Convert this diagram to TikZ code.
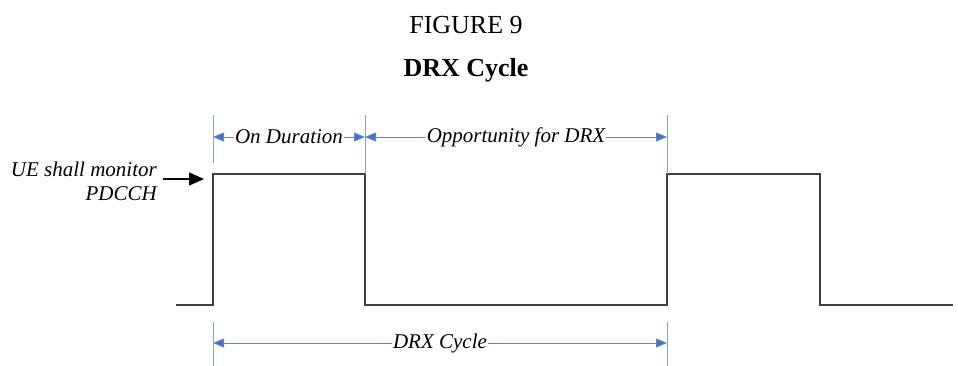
\documentclass[tikz,border=0pt]{standalone}
\usepackage{fontspec}
\setmainfont{Liberation Serif}
\usetikzlibrary{arrows.meta}
\definecolor{dimblue}{RGB}{68,114,196}
\definecolor{ticblue}{RGB}{130,165,215}
\tikzset{
  sig/.style={line width=1.1pt, draw=black!75, line join=miter},
  tick/.style={line width=0.7pt, draw=ticblue},
  dim/.style={line width=0.8pt, draw=dimblue!85, {Triangle[length=11pt,width=9pt,fill=dimblue]}-{Triangle[length=11pt,width=9pt,fill=dimblue]}},
  lbl/.style={font=\fontsize{21}{24}\selectfont\itshape, fill=white, inner sep=1pt},
  ttl/.style={font=\fontsize{26}{30}\selectfont}
}
\begin{document}
\begin{tikzpicture}[x=1pt,y=-1pt]
\useasboundingbox (0,0) rectangle (958,365);
% titles
\node[ttl, anchor=base] (fig) at (466,33) {FIGURE 9};
\node[ttl, font=\fontsize{26}{30}\selectfont\bfseries, anchor=base] (title) at (466,76) {DRX Cycle};
% signal
\coordinate (s0) at (176,305);
\coordinate (r1b) at (213,305);
\coordinate (r1t) at (213,174);
\coordinate (f1t) at (365,174);
\coordinate (f1b) at (365,305);
\coordinate (r2b) at (667,305);
\coordinate (r2t) at (667,174);
\coordinate (f2t) at (820,174);
\coordinate (f2b) at (820,305);
\coordinate (s1) at (953,305);
\draw[sig] (s0) -- (r1b) -- (r1t) -- (f1t) -- (f1b) -- (r2b) -- (r2t) -- (f2t) -- (f2b) -- (s1);
% top ticks
\coordinate (ta) at (213,115); \coordinate (tab) at (213,163);
\coordinate (tb) at (365,115);
\coordinate (tc) at (667,115);
\draw[tick] (ta) -- (tab);
\draw[tick] (tb) -- (f1t);
\draw[tick] (tc) -- (r2t);
% top dimension arrows
\coordinate (da) at (213,137); \coordinate (db) at (365,137); \coordinate (dc) at (667,137);
\draw[dim] (da) -- node[lbl] (on) {On Duration} (db);
\draw[dim] (db) -- node[lbl] (opp) {Opportunity for DRX} (dc);
% bottom ticks
\coordinate (ba) at (213,322); \coordinate (bae) at (213,366);
\coordinate (bc) at (667,322); \coordinate (bce) at (667,366);
\draw[tick] (ba) -- (bae);
\draw[tick] (bc) -- (bce);
\coordinate (ea) at (213,343); \coordinate (ec) at (667,343);
\draw[dim] (ea) -- node[lbl] (cyc) {DRX Cycle} (ec);
% UE label and arrow
\node[font=\fontsize{21}{24}\selectfont\itshape, align=right, anchor=east, inner sep=0pt] (ue) at (157,181) {UE shall monitor\\PDCCH};
\coordinate (ua) at (163,179); \coordinate (ub) at (204,179);
\draw[line width=1.6pt, -{Triangle[length=15pt,width=13pt]}] (ua) -- (ub);
\end{tikzpicture}
\end{document}
